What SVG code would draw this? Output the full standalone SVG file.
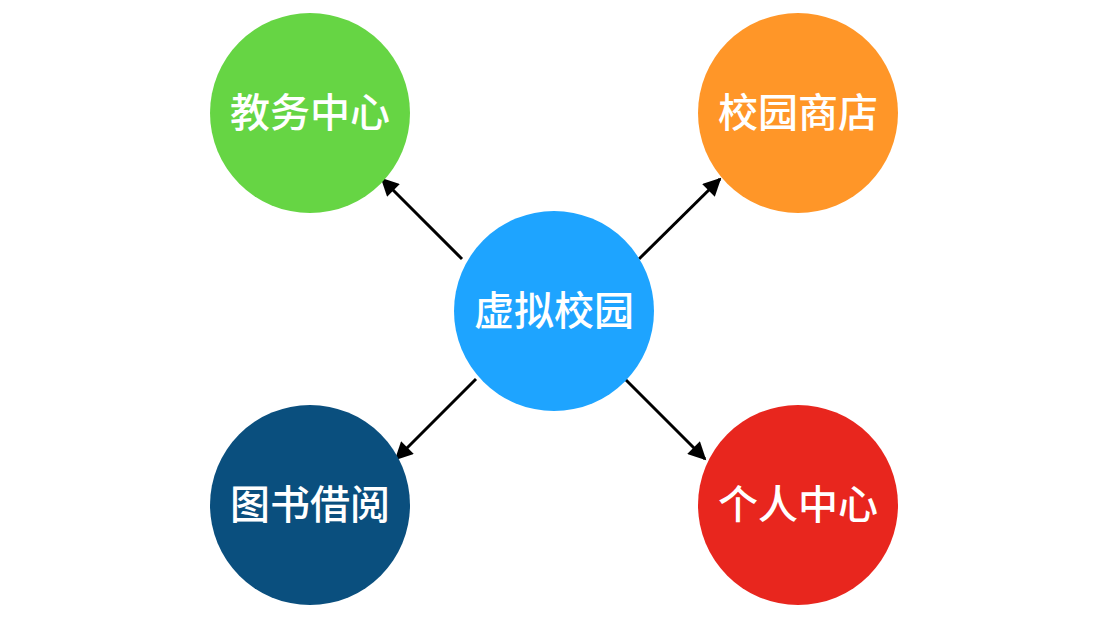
<svg xmlns="http://www.w3.org/2000/svg" width="1100" height="620" viewBox="0 0 1100 620">
<style>
.lbl{font-family:"Noto Sans CJK SC","Noto Sans",sans-serif;font-size:40px;font-weight:500;fill:#fff;text-anchor:middle;dominant-baseline:central}
.edge{stroke:#000;stroke-width:3;fill:none;marker-end:url(#ah)}
</style>
<defs>
<marker id="ah" viewBox="0 0 10 10" refX="9" refY="5" markerWidth="7" markerHeight="6" markerUnits="strokeWidth" orient="auto">
<path d="M0,0 L10,5 L0,10 z" fill="#000"/>
</marker>
</defs>
<rect width="1100" height="620" fill="#fff"/>
<g id="edges">
<line class="edge" x1="462" y1="259" x2="382" y2="179"/>
<line class="edge" x1="639" y1="259" x2="720" y2="179"/>
<line class="edge" x1="476" y1="379" x2="396" y2="459"/>
<line class="edge" x1="624" y1="378" x2="705" y2="459"/>
</g>
<g id="center"><circle cx="554" cy="311" r="100" fill="#1EA4FF"/><text class="lbl" x="554" y="308">虚拟校园</text></g>
<g id="jiaowu"><circle cx="310" cy="113" r="100" fill="#66D544"/><text class="lbl" x="310" y="110">教务中心</text></g>
<g id="shangdian"><circle cx="798" cy="113" r="100" fill="#FF9628"/><text class="lbl" x="798" y="110">校园商店</text></g>
<g id="tushu"><circle cx="310" cy="505" r="100" fill="#0A4F7E"/><text class="lbl" x="310" y="502">图书借阅</text></g>
<g id="geren"><circle cx="798" cy="505" r="100" fill="#E8261E"/><text class="lbl" x="798" y="502">个人中心</text></g>
</svg>
